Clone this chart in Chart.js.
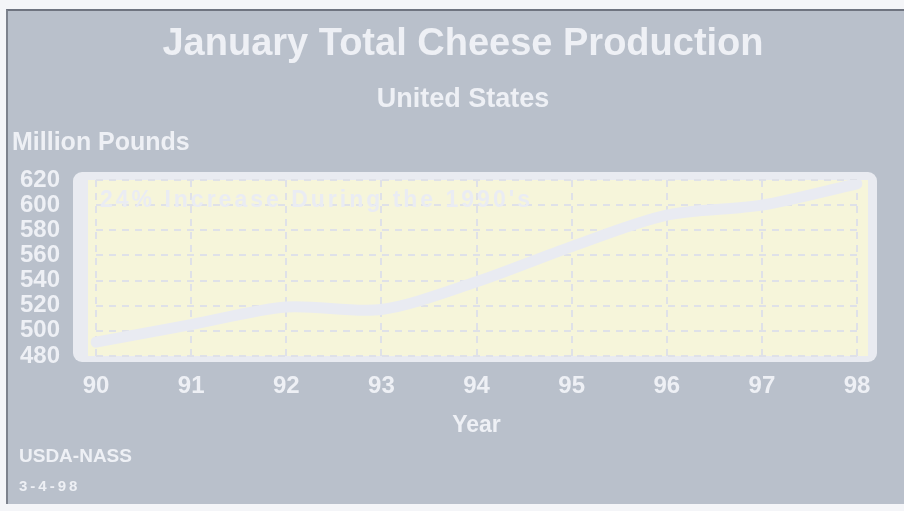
<!DOCTYPE html>
<html>
<head>
<meta charset="utf-8">
<script src="https://cdn.jsdelivr.net/npm/chart.js@4"></script>
<style>
  body { margin: 0; background: #f4f5f8; }
  #wrap { position: relative; width: 904px; height: 511px; overflow: hidden; }
  #panel { position: absolute; left: 6px; top: 9px; width: 898px; height: 493px;
           background: #b9c0cb; border-top: 2px solid #6f7480; border-left: 2px solid #7d828d; }
  canvas { position: absolute; left: 0; top: 0; }
  .txt { position: absolute; color: #eef0f5; font-family: 'Liberation Sans', Arial, sans-serif;
         font-weight: bold; white-space: nowrap; }
  .centro { left: 22px; width: 882px; text-align: center; }
</style>
</head>
<body>
<div id="wrap">
  <div id="panel"></div>
  <canvas id="grafico" width="904" height="511"></canvas>
  <div class="txt centro" style="top:19px; font-size:38px; line-height:46px;">January Total Cheese Production</div>
  <div class="txt centro" style="top:82px; font-size:27px; line-height:32px;">United States</div>
  <div class="txt" style="left:12px; top:127px; font-size:25px;">Million Pounds</div>
  <div class="txt" style="left:100px; top:186px; font-size:23px; letter-spacing:3px; color:#eaecf3;">24% Increase During the 1990's</div>
  <div class="txt" style="left:19px; top:445px; font-size:19px;">USDA-NASS</div>
  <div class="txt" style="left:19px; top:477px; font-size:15px; letter-spacing:3px;">3-4-98</div>
</div>
<script>
const anos = ['90', '91', '92', '93', '94', '95', '96', '97', '98'];
const producao = [491, 505, 519, 517, 539, 567, 592, 600, 617];
const yMin = 480, yMax = 620, yPasso = 20;

const fonte = "'Liberation Sans', Arial, sans-serif";
const branco = '#eef0f5';

// fundo amarelo com moldura clara atrás da área do gráfico
const fundoPlot = {
  id: 'fundoPlot',
  beforeDraw(chart) {
    const { ctx, chartArea: a } = chart;
    ctx.save();
    ctx.fillStyle = '#e9ebf1';
    ctx.beginPath();
    ctx.roundRect(a.left - 23, a.top - 8, a.right - a.left + 43, a.bottom - a.top + 14, 9);
    ctx.fill();
    ctx.fillStyle = '#f6f5da';
    ctx.fillRect(a.left - 8, a.top, a.right - a.left + 19, a.bottom - a.top);
    ctx.restore();
  }
};

new Chart(document.getElementById('grafico'), {
  type: 'line',
  data: {
    labels: anos,
    datasets: [{
      data: producao,
      borderColor: '#e9ebf2',
      borderWidth: 11,
      tension: 0.3,
      pointRadius: 0,
      borderCapStyle: 'round',
      fill: false
    }]
  },
  options: {
    responsive: false,
    animation: false,
    layout: { padding: { left: 10, right: 47, top: 180, bottom: 60 } },
    plugins: {
      legend: { display: false },
      tooltip: { enabled: false }
    },
    scales: {
      x: {
        offset: false,
        afterFit: s => { s.height = 95; },
        grid: { color: '#dfe1e8', lineWidth: 2, drawTicks: false },
        border: { display: false, dash: [7, 6] },
        ticks: { color: branco, padding: 16, autoSkip: false, maxRotation: 0,
                 font: { family: fonte, size: 24, weight: 'bold' } },
        title: {
          display: true, text: 'Year', color: branco,
          font: { family: fonte, size: 23, weight: 'bold' },
          padding: { top: 0, bottom: 12 }
        }
      },
      y: {
        min: yMin,
        max: yMax,
        afterFit: s => { s.width = 86; },
        grid: { color: '#dfe1e8', lineWidth: 2, drawTicks: false },
        border: { display: false, dash: [7, 6] },
        ticks: { stepSize: yPasso, autoSkip: false, color: branco, padding: 36,
                 font: { family: fonte, size: 24, weight: 'bold', lineHeight: 1 } }
      }
    }
  },
  plugins: [fundoPlot]
});
</script>
</body>
</html>
